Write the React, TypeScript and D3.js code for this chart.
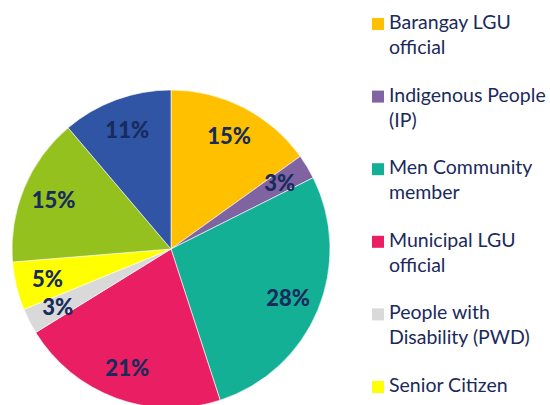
import * as d3 from 'd3';
import { useEffect, useRef } from 'react';

const categories = [
  'Barangay LGU official',
  'Indigenous People (IP)',
  'Men Community member',
  'Municipal LGU official',
  'People with Disability (PWD)',
  'Senior Citizen',
  'Women Community member',
  'Youth',
];

// legend lines as they wrap in the picture
const legendLines = [
  ['Barangay LGU', 'official'],
  ['Indigenous People', '(IP)'],
  ['Men Community', 'member'],
  ['Municipal LGU', 'official'],
  ['People with', 'Disability (PWD)'],
  ['Senior Citizen'],
  ['Women Community', 'member'],
  ['Youth'],
];

const shares = [15.1, 2.5, 27.4, 21.2, 2.6, 4.9, 15.1, 11.2];
const percentLabels = ['15%', '3%', '28%', '21%', '3%', '5%', '15%', '11%'];

const colors = ['#FFC000', '#8064A2', '#14B096', '#E91E63', '#D9D9D9', '#FFFF00', '#95C11F', '#2F55A4'];

const App = (): React.ReactElement => {
  const ref: any = useRef();
  const width = 550;
  const height = 405;
  const cx = 171;
  const cy = 249;
  const radius = 159;
  const legendStep = 72.6;

  useEffect(() => {
    const svg = d3.select(ref.current).attr('width', width).attr('height', height);
    svg.selectAll('*').remove();

    const data = categories.map((c, i) => ({ name: c, value: shares[i], label: percentLabels[i], color: colors[i] }));

    const pie = d3
      .pie<any>()
      .sort(null)
      .value((d) => d.value);
    const arc = d3.arc<any>().innerRadius(0).outerRadius(radius);
    const labelArc = d3.arc<any>().innerRadius(127).outerRadius(127);

    const g = svg.append('g').attr('transform', 'translate(' + cx + ',' + cy + ')');

    g.selectAll('path')
      .data(pie(data))
      .enter()
      .append('path')
      .attr('d', arc)
      .attr('fill', (d) => d.data.color)
      .attr('stroke', '#ffffff')
      .attr('stroke-width', 0.6);

    g.selectAll('text')
      .data(pie(data))
      .enter()
      .append('text')
      .attr('transform', (d) => 'translate(' + labelArc.centroid(d) + ')')
      .attr('text-anchor', 'middle')
      .attr('dy', '0.36em')
      .attr('font-family', 'Lato, sans-serif')
      .attr('font-weight', 900)
      .attr('font-size', 22)
      .attr('fill', '#172B5C')
      .text((d) => d.data.label);

    // the legend runs past the bottom edge; only the entries that fit are shown
    const shown = data.filter((_d, i) => 29 + i * legendStep < height);

    const legend = svg
      .append('g')
      .selectAll('g')
      .data(shown)
      .enter()
      .append('g')
      .attr('transform', (_d, i) => 'translate(372,' + (29 + i * legendStep) + ')');

    legend
      .append('rect')
      .attr('x', 0)
      .attr('y', -11)
      .attr('width', 12)
      .attr('height', 12)
      .attr('fill', (d) => d.color);

    legend
      .append('text')
      .attr('x', 17)
      .attr('font-family', 'Lato, sans-serif')
      .attr('font-size', 19.5)
      .attr('fill', '#1B2A5C')
      .selectAll('tspan')
      .data((_d, i) => legendLines[i])
      .enter()
      .append('tspan')
      .attr('x', 17)
      .attr('dy', (_t, j) => (j === 0 ? 0 : 25))
      .text((t) => t);
  }, []);

  return <svg ref={ref} style={{ position: 'absolute', left: 0, top: 0, display: 'block' }} />;
};

export default App;
